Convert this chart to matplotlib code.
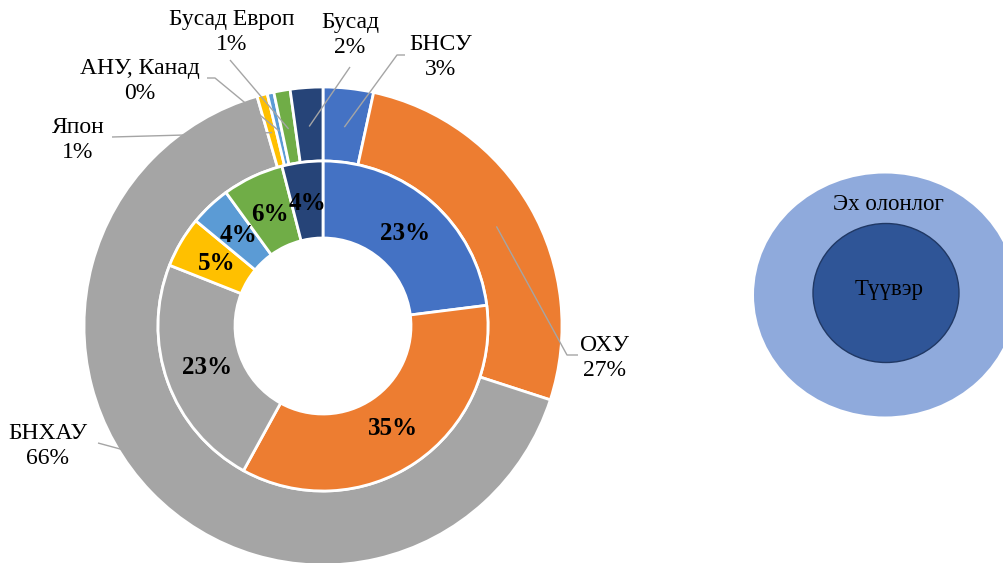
import matplotlib.pyplot as plt
import numpy as np
from matplotlib.patches import Ellipse

# Outer ring: countries (share, %)
outer_labels = ['БНСУ', 'ОХУ', 'БНХАУ', 'Япон', 'АНУ, Канад', 'Бусад Европ', 'Бусад']
outer_values = [3.4, 26.6, 65.55, 0.7, 0.45, 1.1, 2.2]

# Inner ring (share, %)
inner_values = [23, 35, 23, 5, 4, 6, 4]

colors = ['#4472C4', '#ED7D31', '#A5A5A5', '#FFC000', '#5B9BD5', '#70AD47', '#264478']

W, H = 1004, 563
cx, cy = 323, 326          # pie centre in pixels (y down)
R_out, R_mid, R_hole = 239, 165, 88

plt.rcParams['font.family'] = ['Liberation Serif', 'DejaVu Serif']

fig = plt.figure(figsize=(W / 100, H / 100), dpi=100)
ax = fig.add_axes([0, 0, 1, 1])


def P(x, y):
    # pixel coords (y down) -> data coords (y up)
    return x, H - y


center = P(cx, cy)

ax.pie(outer_values, colors=colors, radius=R_out, center=center,
       startangle=90, counterclock=False,
       wedgeprops=dict(width=R_out - R_mid, edgecolor='white', linewidth=2))

ax.pie(inner_values, colors=colors, radius=R_mid, center=center,
       startangle=90, counterclock=False,
       autopct='%.0f%%', pctdistance=0.75,
       textprops=dict(fontsize=18, fontweight='bold', color='black'),
       wedgeprops=dict(width=R_mid - R_hole, edgecolor='white', linewidth=2))

# anchors of leader lines at the middle of each outer wedge
total = sum(outer_values)
cum = np.cumsum([0] + outer_values) / total
mids = (cum[:-1] + cum[1:]) / 2
anchors = [(cx + 200 * np.sin(2 * np.pi * f), cy - 200 * np.cos(2 * np.pi * f)) for f in mids]

# label text position and start of leader path (pixels)
label_pos = [(441, 57), (605, 358), (48, 446), (78, 140), (140, 81), (232, 32), (350, 35)]
line_start = [
    [(405, 55), (397, 55)],
    [(578, 355), (567, 355)],
    [(98, 443)],
    [(112, 137)],
    [(207, 78), (215, 78)],
    [(230, 60)],
    [(350, 67)],
]

for lab, val, pos, pts, anc in zip(outer_labels, outer_values, label_pos, line_start, anchors):
    pct = round(val / total * 100)
    ax.text(*P(*pos), f'{lab}\n{pct}%', ha='center', va='center',
            fontsize=17, linespacing=1.22, color='black')
    path = pts + [anc]
    xs = [p[0] for p in path]
    ys = [H - p[1] for p in path]
    ax.plot(xs, ys, color='#A5A5A5', lw=1, solid_capstyle='butt')

# population / sample ellipses
ax.add_patch(Ellipse(P(885, 295), 262, 243, facecolor='#8FAADC', edgecolor='none'))
ax.add_patch(Ellipse(P(886, 293), 146, 139, facecolor='#2F5597', edgecolor='#203864', lw=1))
ax.text(*P(888, 205), 'Эх олонлог', ha='center', va='center', fontsize=16.5, color='black')
ax.text(*P(889, 290), 'Түүвэр', ha='center', va='center', fontsize=16.5, color='black')

ax.set_xlim(0, W)
ax.set_ylim(0, H)
ax.set_aspect('auto')
ax.axis('off')

fig.savefig('out.png', dpi=100)
